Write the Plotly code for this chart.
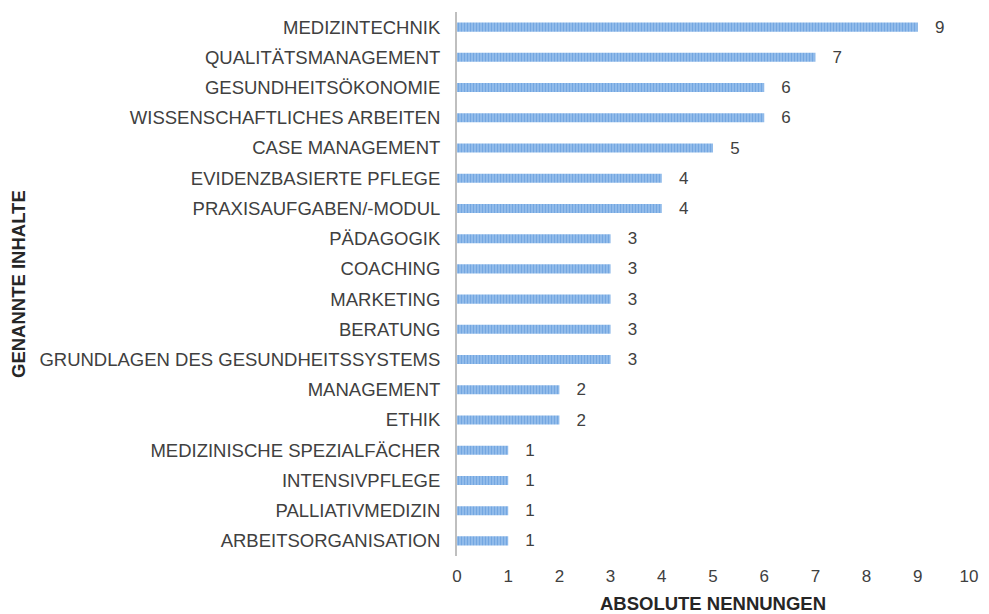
import plotly.graph_objects as go

categories = ["MEDIZINTECHNIK", "QUALITÄTSMANAGEMENT", "GESUNDHEITSÖKONOMIE",
              "WISSENSCHAFTLICHES ARBEITEN", "CASE MANAGEMENT", "EVIDENZBASIERTE PFLEGE",
              "PRAXISAUFGABEN/-MODUL", "PÄDAGOGIK", "COACHING", "MARKETING", "BERATUNG",
              "GRUNDLAGEN DES GESUNDHEITSSYSTEMS", "MANAGEMENT", "ETHIK",
              "MEDIZINISCHE SPEZIALFÄCHER", "INTENSIVPFLEGE", "PALLIATIVMEDIZIN",
              "ARBEITSORGANISATION"]
values = [9, 7, 6, 6, 5, 4, 4, 3, 3, 3, 3, 3, 2, 2, 1, 1, 1, 1]
x_ticks = list(range(0, 11))

FONT = "Liberation Sans, Arial, sans-serif"
TXT = "#404040"

fig = go.Figure(go.Bar(
    y=categories, x=values, orientation="h", width=0.3,
    marker=dict(color="#7fb0e4", line=dict(width=0),
                pattern=dict(shape="|", fgcolor="#4a89d3", bgcolor="#9fc5ee",
                             size=3, solidity=0.55)),
    text=["\u00a0\u00a0\u00a0" + str(v) for v in values], textposition="outside",
    constraintext="none",
    textfont=dict(family=FONT, size=17, color=TXT),
    cliponaxis=False,
))

fig.update_layout(
    width=981, height=606, autosize=False,
    margin=dict(l=449, r=20, t=4, b=58),
    plot_bgcolor="white", paper_bgcolor="white",
    showlegend=False,
    font=dict(family=FONT, size=17, color=TXT),
    xaxis=dict(range=[0, 10], tickvals=x_ticks, showgrid=False, zeroline=False,
               showline=False, tickfont=dict(size=17, color=TXT),
               ticks="", ticklabelstandoff=8,
               title=dict(text="<b>ABSOLUTE NENNUNGEN</b>", font=dict(size=18.5, color="#262626"),
                          standoff=12)),
    yaxis=dict(autorange="reversed", showgrid=False, zeroline=False,
               showline=True, linecolor="#bfbfbf", linewidth=2,
               ticks="", ticklabelstandoff=11,
               tickfont=dict(size=18.5, color=TXT)),
)

fig.add_annotation(text="<b>GENANNTE INHALTE</b>", textangle=-90,
                   xref="paper", yref="paper", x=(18 - 457) / 512, y=0.5,
                   showarrow=False, font=dict(size=18.5, color="#262626"),
                   xanchor="center", yanchor="middle")

fig.write_html("out.html")
